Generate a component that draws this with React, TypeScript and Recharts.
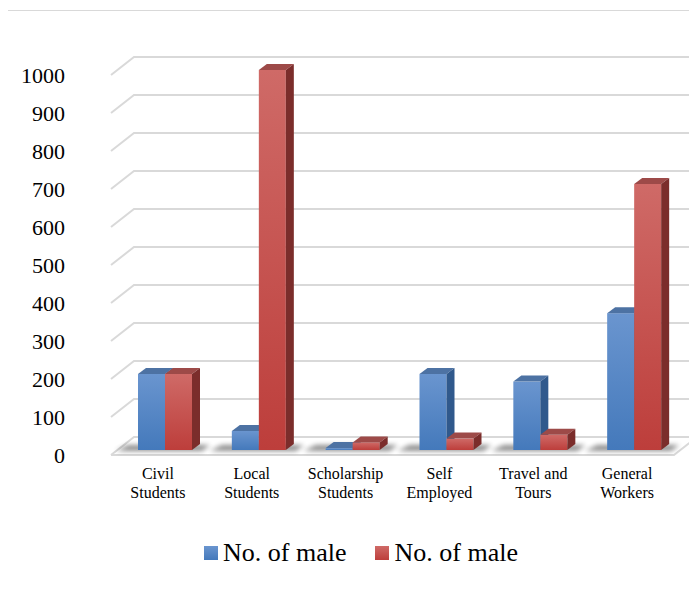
import { BarChart, Bar, XAxis, YAxis, CartesianGrid } from 'recharts'

const categories = ['Civil\nStudents', 'Local\nStudents', 'Scholarship\nStudents', 'Self\nEmployed', 'Travel and\nTours', 'General\nWorkers']
const maleA = [200, 50, 5, 200, 180, 360]
const maleB = [200, 1000, 20, 30, 40, 700]
const yTicks = [0, 100, 200, 300, 400, 500, 600, 700, 800, 900, 1000]
const seriesNames = ['No. of male', 'No. of male']

const data = categories.map((c, i) => ({ name: c, a: maleA[i], b: maleB[i] }))

const SERIF = 'Times New Roman, Liberation Serif, DejaVu Serif, serif'
const DX = 23 // grid depth
const DY = 18
const BDX = 8 // bar depth
const BDY = 6
const SHIFT = 7

const palette = {
  blue: { top: '#4d72a3', side: '#30598c', light: '#6a95cf', dark: '#4479bb' },
  red: { top: '#9d4a48', side: '#7b2d2b', light: '#cf6a67', dark: '#bd3e3b' },
}

function gridLine(props: any) {
  const { x1, x2, y1, index } = props
  const fy = y1 + 5
  const by = fy - DY
  const parts = [
    <path key={`g${index}`} d={`M${x1},${fy} L${x1 + DX},${by} L${x2 + DX},${by}`} stroke="#d9d9d9" strokeWidth={2} fill="none" />,
  ]
  if (Math.abs(y1 - 450) < 1) {
    parts.push(
      <path key={`f${index}`} d={`M${x1},${fy} L${x2},${fy} L${x2 + DX},${by}`} stroke="#d9d9d9" strokeWidth={2} fill="none" />
    )
  }
  return <g key={`gg${index}`}>{parts}</g>
}

function makeShape(key: 'blue' | 'red', withShadow: boolean) {
  return (props: any) => {
    const { x, y, width, height } = props
    const c = palette[key]
    const bx = x + SHIFT
    const bottom = y + height
    return (
      <g>
        {withShadow && (
          <polygon
            points={`${bx - 22},${bottom + 1} ${bx + width * 2 + 10},${bottom + 1} ${bx + width * 2 + 18},${bottom - 5} ${bx - 10},${bottom - 5}`}
            fill="#000"
            opacity={0.45}
            filter="url(#blur)"
          />
        )}
        <rect x={bx} y={y} width={width} height={Math.max(height, 0.5)} fill={`url(#face-${key})`} />
        <polygon points={`${bx},${y} ${bx + BDX},${y - BDY} ${bx + width + BDX},${y - BDY} ${bx + width},${y}`} fill={c.top} />
        <polygon
          points={`${bx + width},${y} ${bx + width + BDX},${y - BDY} ${bx + width + BDX},${bottom - BDY} ${bx + width},${bottom}`}
          fill={c.side}
        />
      </g>
    )
  }
}

function YTick(props: any) {
  const { y, payload } = props
  return (
    <text x={65} y={y + 5} textAnchor="end" dominantBaseline="central" fontFamily={SERIF} fontSize={22} fill="#000">
      {payload.value}
    </text>
  )
}

function XTick(props: any) {
  const { x, y, payload } = props
  const lines = String(payload.value).split('\n')
  return (
    <g>
      {lines.map((l, i) => (
        <text key={i} x={x} y={y + 15 + i * 19} textAnchor="middle" dominantBaseline="central" fontFamily={SERIF} fontSize={16} fill="#000">
          {l}
        </text>
      ))}
    </g>
  )
}

export default function App() {
  return (
    <div style={{ position: 'relative', width: 697, height: 589, margin: -8, overflow: 'hidden', background: '#fff' }}>
      <div style={{ position: 'absolute', left: 6, top: 10, width: 720, height: 620, border: '1px solid #d9d9d9' }} />
      <div style={{ position: 'absolute', left: 0, top: 0 }}>
        <BarChart width={697} height={589} data={data} margin={{ top: 70, right: 23, bottom: 99, left: 0 }} barSize={27} barGap={0}>
          <defs>
            <filter id="blur" x="-20%" y="-100%" width="140%" height="300%">
              <feGaussianBlur stdDeviation="2.5" />
            </filter>
            {(['blue', 'red'] as const).map((k) => (
              <linearGradient key={k} id={`face-${k}`} x1="0" y1="0" x2="0" y2="1">
                <stop offset="0%" stopColor={palette[k].light} />
                <stop offset="100%" stopColor={palette[k].dark} />
              </linearGradient>
            ))}
          </defs>
          <CartesianGrid vertical={false} horizontal={gridLine} />
          <XAxis dataKey="name" axisLine={false} tickLine={false} tick={<XTick />} interval={0} height={40} />
          <YAxis domain={[0, 1000]} ticks={yTicks} axisLine={false} tickLine={false} tick={<YTick />} width={111} />
          <Bar dataKey="a" name={seriesNames[0]} shape={makeShape('blue', true)} isAnimationActive={false} />
          <Bar dataKey="b" name={seriesNames[1]} shape={makeShape('red', false)} isAnimationActive={false} />
        </BarChart>
      </div>
      <div
        style={{
          position: 'absolute',
          top: 538,
          left: 204,
          display: 'flex',
          alignItems: 'center',
          fontFamily: SERIF,
          fontSize: 26,
          color: '#000',
          whiteSpace: 'nowrap',
        }}
      >
        {seriesNames.map((n, i) => (
          <span key={i} style={{ display: 'flex', alignItems: 'center', marginRight: i === 0 ? 29 : 0 }}>
            <span
              style={{
                display: 'inline-block',
                width: 14,
                height: 14,
                marginRight: 5,
                background: `linear-gradient(${i === 0 ? '#6a95cf, #4479bb' : '#cf6a67, #bd3e3b'})`,
              }}
            />
            {n}
          </span>
        ))}
      </div>
    </div>
  )
}
